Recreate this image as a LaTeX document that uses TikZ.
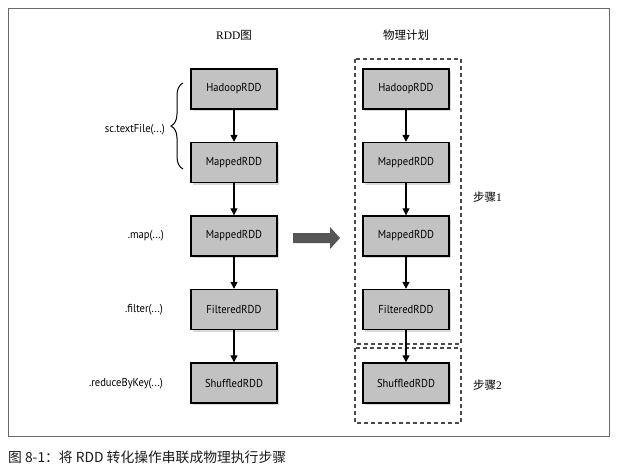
\documentclass[tikz,border=0pt]{standalone}
\usepackage{fontspec}
\setmainfont{Liberation Serif}
\newfontfamily\cjk{Noto Sans CJK SC}
\newfontfamily\boxfont[FakeStretch=0.92]{PT Sans}
\usetikzlibrary{arrows.meta,shadows,decorations.pathreplacing}

\definecolor{boxgray}{HTML}{C2C2C2}
\definecolor{dashgray}{HTML}{4A4A4A}
\definecolor{bigarrow}{HTML}{555555}
\definecolor{framegray}{HTML}{6A6A6A}

\tikzset{
  rddbox/.style={draw=black, line width=1.4pt, fill=boxgray,
    minimum width=86pt, minimum height=40pt, inner sep=0pt,
    font=\boxfont\fontsize{11.5}{13}\selectfont,
    drop shadow={shadow xshift=2pt, shadow yshift=-2pt, opacity=0.3}},
  flow/.style={line width=1.3pt, -{Triangle[width=7pt,length=7pt]}},
  op/.style={anchor=east, inner sep=0pt, font=\boxfont\fontsize{11.5}{13}\selectfont},
  stage/.style={draw=dashgray, line width=1.2pt, dash pattern=on 4pt off 3pt},
  heading/.style={font=\fontsize{11.5}{14}\selectfont},
  steplabel/.style={anchor=west, inner sep=0pt, font=\cjk\fontsize{11.5}{14}\selectfont}
}

\begin{document}
\begin{tikzpicture}[x=1pt,y=-1pt]
    \useasboundingbox (0,0) rectangle (619,472);
    \draw[framegray, line width=0.9pt] (8,8) rectangle (609,436);

% RDD graph
    \node[heading] (rddtitle) at (234,35) {RDD{\cjk 图}};
    \node[rddbox] (l1) at (234,89) {HadoopRDD};
    \node[rddbox] (l2) at (234,162.5) {MappedRDD};
    \node[rddbox] (l3) at (234,236) {MappedRDD};
    \node[rddbox] (l4) at (234,309.5) {FilteredRDD};
    \node[rddbox] (l5) at (234,383) {ShuffledRDD};

    \draw[flow] (l1) -- (l2);
    \draw[flow] (l2) -- (l3);
    \draw[flow] (l3) -- (l4);
    \draw[flow] (l4) -- (l5);

    \coordinate (b0) at (183,169);
    \coordinate (b1) at (183,83);
    \draw[line width=1pt, decorate, decoration={brace, amplitude=12pt}] (b0) -- (b1);

    \node[op] (textfile) at (165,130) {sc.textFile(...)};
    \node[op] (map) at (164,236) {.map(...)};
    \node[op] (filter) at (163,310) {.filter(...)};
    \node[op] (reduce) at (163,384) {.reduceByKey(...)};

% arrow between the two
    \fill[bigarrow] (293,233) -- (330,233) -- (330,227) -- (340,238)
        -- (330,249) -- (330,243) -- (293,243) -- cycle;

% physical plan
    \node[heading, font=\cjk\fontsize{11.5}{14}\selectfont] (plantitle) at (406,35) {物理计划};
    \draw[stage] (355,59) rectangle (461,344);
    \draw[stage] (355,348) rectangle (461,423);

    \node[rddbox] (r1) at (406,89) {HadoopRDD};
    \node[rddbox] (r2) at (406,162.5) {MappedRDD};
    \node[rddbox] (r3) at (406,236) {MappedRDD};
    \node[rddbox] (r4) at (406,309.5) {FilteredRDD};
    \node[rddbox] (r5) at (406,383) {ShuffledRDD};

    \draw[flow] (r1) -- (r2);
    \draw[flow] (r2) -- (r3);
    \draw[flow] (r3) -- (r4);
    \draw[flow] (r4) -- (r5);

    \node[steplabel] (step1) at (473,197) {步骤\rmfamily 1};
    \node[steplabel] (step2) at (473,385) {步骤\rmfamily 2};

% caption
    \node[anchor=west, inner sep=0pt, text=black!90, font=\cjk\fontsize{13.8}{16}\selectfont]
        (caption) at (8,457) {图 8-1：将 RDD 转化操作串联成物理执行步骤};
\end{tikzpicture}
\end{document}
